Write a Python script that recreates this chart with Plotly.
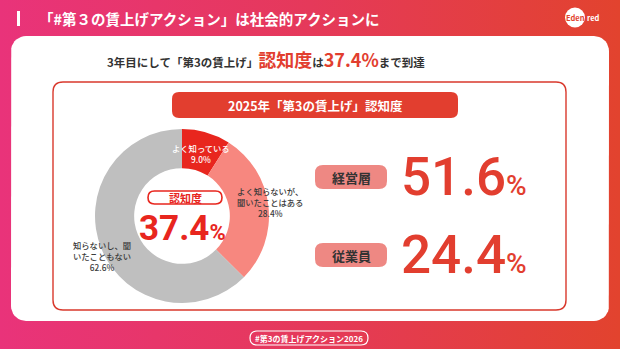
import numpy as np
import plotly.graph_objects as go

W, H = 620, 349

# 2025 awareness survey: overall answer breakdown
answer_labels = ["よく知っている", "よく知らないが、<br>聞いたことはある", "知らないし、聞<br>いたこともない"]
answer_shares = [9.0, 28.4, 62.6]
slice_colors = ["#E8261E", "#F7877F", "#BFBFBF"]
label_colors = ["#FFFFFF", "#3A3A3A", "#3A3A3A"]

# awareness by respondent group
group_labels = ["経営層", "従業員"]
group_awareness = [51.6, 24.4]

awareness = round(answer_shares[0] + answer_shares[1], 1)

title_text = "「#第３の賃上げアクション」は社会的アクションに"
panel_title = "2025年「第3の賃上げ」認知度"
footer_tag = "#第3の賃上げアクション2026"

FONT = "Noto Sans CJK JP"
NUM_FONT = "Roboto"
RED = "#E23E2F"
DARK = "#333333"


def rounded_points(x0, y0, x1, y1, r, n=10):
    xs, ys = [], []
    corners = [(x1 - r, y0 + r, -90, 0), (x1 - r, y1 - r, 0, 90),
               (x0 + r, y1 - r, 90, 180), (x0 + r, y0 + r, 180, 270)]
    for cx, cy, a0, a1 in corners:
        t = np.radians(np.linspace(a0, a1, n))
        xs += list(cx + r * np.cos(t))
        ys += list(cy + r * np.sin(t))
    xs.append(xs[0])
    ys.append(ys[0])
    return xs, ys


def rounded_path(x0, y0, x1, y1, r):
    return (f"M{x0 + r},{y0} L{x1 - r},{y0} Q{x1},{y0} {x1},{y0 + r} "
            f"L{x1},{y1 - r} Q{x1},{y1} {x1 - r},{y1} L{x0 + r},{y1} "
            f"Q{x0},{y1} {x0},{y1 - r} L{x0},{y0 + r} Q{x0},{y0} {x0 + r},{y0} Z")


fig = go.Figure()

# gradient backdrop
fig.add_trace(go.Scatter(
    x=[0, W, W, 0, 0], y=[0, 0, H, H, 0], mode="lines", fill="toself",
    line=dict(width=0), hoverinfo="skip",
    fillgradient=dict(type="horizontal",
                      colorscale=[[0, "#E9337A"], [0.5, "#E5395A"], [1, "#E2432E"]]),
))

# white card
cx, cy = rounded_points(11, 36, 609, 321, 15)
fig.add_trace(go.Scatter(x=cx, y=cy, mode="lines", fill="toself", fillcolor="white",
                         line=dict(width=0), hoverinfo="skip"))

# donut
pc_x, pc_y, pr = 182, 216, 87
fig.add_trace(go.Pie(
    values=answer_shares, labels=[l.replace("<br>", "") for l in answer_labels],
    marker=dict(colors=slice_colors, line=dict(width=0)),
    sort=False, direction="clockwise", rotation=0, hole=0.55,
    textinfo="none", hoverinfo="skip",
    domain=dict(x=[(pc_x - pr) / W, (pc_x + pr) / W],
                y=[(H - pc_y - pr) / H, (H - pc_y + pr) / H]),
))

shapes = [
    # title marker bar
    dict(type="rect", x0=17, x1=20, y0=11, y1=26, fillcolor="white", line=dict(width=0)),
    # logo badge
    dict(type="circle", x0=565, x1=585, y0=7.5, y1=27.5, fillcolor="white", line=dict(width=0)),
    # inner frame
    dict(type="path", path=rounded_path(53, 82, 566, 310, 10),
         line=dict(color="#D9392D", width=1.4), fillcolor="rgba(0,0,0,0)"),
    # panel header bar
    dict(type="path", path=rounded_path(172, 92, 458, 118, 7), fillcolor=RED, line=dict(width=0)),
    # donut-centre pill
    dict(type="path", path=rounded_path(148, 191, 222, 204, 6.5), fillcolor="white",
         line=dict(color="#E8261E", width=1.6)),
    # footer pill
    dict(type="path", path=rounded_path(250, 331, 368, 345, 7), fillcolor="rgba(0,0,0,0)",
         line=dict(color="white", width=1.2)),
]
pill_rows = [177, 255]
for yc in pill_rows:
    shapes.append(dict(type="path", path=rounded_path(315, yc - 12, 387, yc + 12, 8),
                       fillcolor="#EE8883", line=dict(width=0)))
for s in shapes:
    s.update(xref="x", yref="y", layer="above")

ann = []


def add_text(x, y, text, size, color, xanchor="center", family=FONT, weight=None):
    font = dict(family=family, size=size, color=color)
    if weight:
        font["weight"] = weight
    ann.append(dict(x=x, y=y, xref="x", yref="y", text=text, showarrow=False,
                    xanchor=xanchor, yanchor="middle", font=font))


add_text(37, 18, f"<b>{title_text}</b>", 14.5, "white", xanchor="left")
add_text(575, 17.5, "<b>Eden</b>", 7.5, "#E2432E")
add_text(584.5, 17.5, "<b>red</b>", 7.5, "white", xanchor="left")

sub = (f"<b>3年目にして「第3の賃上げ」<span style='color:{RED};font-size:18px'>認知度</span>は"
       f"<span style='color:{RED};font-size:18px'>{awareness:.1f}%</span>まで到達</b>")
add_text(266, 59, sub, 11.5, DARK)

add_text(315, 105, f"<b>{panel_title}</b>", 12.5, "white")

# slice labels
label_pos = [(201, 153), (270, 202), (102, 256)]
for (lx, ly), lab, val, col in zip(label_pos, answer_labels, answer_shares, label_colors):
    add_text(lx, ly, f"{lab}<br>{val:.1f}%", 8.3, col, weight=500)

add_text(185, 197.5, "<b>認知度</b>", 11, "#E8261E")
add_text(182, 228, f"<b>{awareness:.1f}<span style='font-size:22px'>%</span></b>", 35,
         "#E8261E", family=NUM_FONT)

for yc, g, v in zip(pill_rows, group_labels, group_awareness):
    add_text(351, yc, f"<b>{g}</b>", 13, DARK)
    add_text(399, yc, f"{v:.1f}<span style='font-size:28px'>%</span>", 53, RED,
             xanchor="left", family=NUM_FONT, weight=500)

add_text(309, 338, f"<b>{footer_tag}</b>", 8, "white")

fig.update_layout(
    width=W, height=H, margin=dict(l=0, r=0, t=0, b=0),
    paper_bgcolor="white", plot_bgcolor="rgba(0,0,0,0)",
    showlegend=False, shapes=shapes, annotations=ann,
    xaxis=dict(range=[0, W], visible=False, fixedrange=True, domain=[0, 1]),
    yaxis=dict(range=[H, 0], visible=False, fixedrange=True, domain=[0, 1]),
)

fig.write_html("out.html", config={"displayModeBar": False})
